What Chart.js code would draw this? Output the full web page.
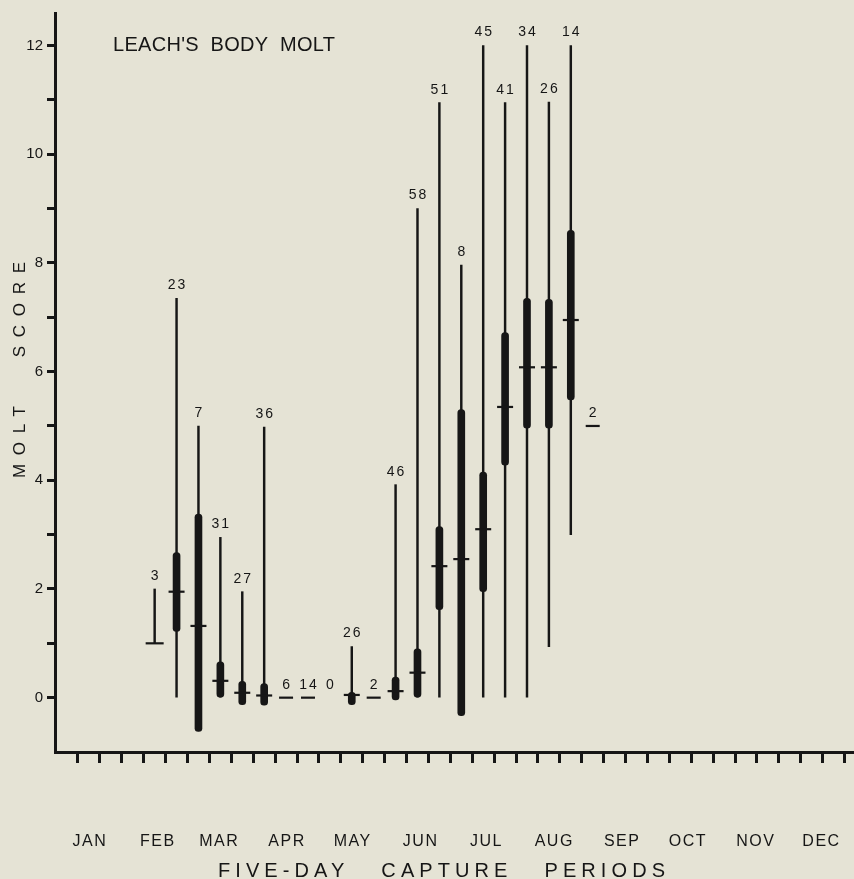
<!DOCTYPE html>
<html>
<head>
<meta charset="utf-8">
<script src="https://cdn.jsdelivr.net/npm/chart.js@4.4.1/dist/chart.umd.min.js"></script>
<style>
  html, body { margin: 0; padding: 0; background: #e5e3d5; }
  #wrap { width: 854px; height: 879px; position: relative; }
</style>
</head>
<body>
<div id="wrap"><canvas id="chart"></canvas></div>
<script>
// Month names shown under the axis
const months = ['JAN', 'FEB', 'MAR', 'APR', 'MAY', 'JUN', 'JUL', 'AUG', 'SEP', 'OCT', 'NOV', 'DEC'];
// Day of the year on which each month begins (one axis tick = ten days)
const monthStartDay = [0, 31, 59, 90, 120, 151, 181, 212, 243, 273, 304, 334];

// Capture period number (0 = first period of January)
const periodIndex = [3, 4, 5, 6, 7, 8, 9, 10, 11, 12, 13, 14, 15, 16, 17, 18, 19, 20, 21, 22, 23];
// Birds examined in each period
const sampleSize  = [3, 23, 7, 31, 27, 36, 6, 14, 0, 26, 2, 46, 58, 51, 8, 45, 41, 34, 26, 14, 2];
// Lowest and highest molt score
const rangeMin = [1, 0, 0, 0, 0, 0, null, null, null, 0, null, 0, 0, 0, 0, 0, 0, 0, 0.94, 3.0, null];
const rangeMax = [2, 7.35, 5.0, 2.95, 1.95, 4.98, null, null, null, 0.94, null, 3.92, 9.0, 10.95, 7.96, 12, 10.95, 12, 10.96, 12, null];
// Mean plus / minus one standard deviation
const sdLow  = [null, 1.22, -0.62, 0, -0.13, -0.14, null, null, null, -0.13, null, -0.04, 0, 1.62, -0.33, 1.95, 4.28, 4.96, 4.96, 5.48, null];
const sdHigh = [null, 2.67, 3.38, 0.66, 0.30, 0.26, null, null, null, 0.10, null, 0.38, 0.90, 3.15, 5.30, 4.15, 6.72, 7.35, 7.33, 8.60, null];
// Mean molt score
const meanScore = [1, 1.95, 1.32, 0.31, 0.09, 0.04, 0, 0, null, 0.05, 0, 0.12, 0.46, 2.42, 2.55, 3.10, 5.35, 6.08, 6.08, 6.95, 5.0];

// Y-axis tick values
const scoreTicks = [0, 1, 2, 3, 4, 5, 6, 7, 8, 9, 10, 11, 12];

const INK = '#161616';
const FONT = "'Liberation Sans', Arial, sans-serif";

const xOf = i => periodIndex[i] + 0.5;

const rangeData = [], sdData = [], meanData = [], meanRadius = [];
periodIndex.forEach((p, i) => {
  if (rangeMin[i] !== null) rangeData.push({ x: xOf(i), y: [rangeMin[i], rangeMax[i]] });
  if (sdLow[i] !== null) sdData.push({ x: xOf(i), y: [sdLow[i], sdHigh[i]] });
  if (meanScore[i] !== null) {
    meanData.push({ x: xOf(i), y: meanScore[i] });
    meanRadius.push(rangeMin[i] === null ? 7 : (sdLow[i] === null ? 9 : 8));
  }
});

// Draws a string stretched between two x positions by letter spacing
function spacedText(ctx, text, x0, x1, y) {
  ctx.letterSpacing = '0px';
  const w = ctx.measureText(text).width;
  const ls = (x1 - x0 - w) / (text.length - 1);
  ctx.letterSpacing = ls + 'px';
  ctx.textAlign = 'left';
  ctx.fillText(text, x0, y);
}

const textPlugin = {
  id: 'moltText',
  beforeDraw(chart) {
    const ctx = chart.ctx;
    ctx.save();
    ctx.fillStyle = '#e5e3d5';
    ctx.fillRect(0, 0, chart.width, chart.height);
    ctx.restore();
  },
  afterDatasetsDraw(chart) {
    const ctx = chart.ctx;
    const xs = chart.scales.x, ys = chart.scales.y;
    ctx.save();
    ctx.fillStyle = INK;

    // sample sizes above each period
    ctx.font = `14px ${FONT}`;
    ctx.letterSpacing = '2px';
    ctx.textAlign = 'center';
    ctx.textBaseline = 'middle';
    periodIndex.forEach((p, i) => {
      const vals = [rangeMax[i], sdHigh[i], meanScore[i]].filter(v => v !== null);
      const top = vals.length ? Math.max(...vals) : 0;
      ctx.fillText(String(sampleSize[i]), xs.getPixelForValue(xOf(i)) + 1, ys.getPixelForValue(top) - 13);
    });

    // month names
    ctx.textBaseline = 'alphabetic';
    ctx.font = `16px ${FONT}`;
    ctx.letterSpacing = '1.5px';
    months.forEach((m, k) => {
      ctx.fillText(m, xs.getPixelForValue(monthStartDay[k] / 10 + 0.5) + 1, 846);
    });

    // chart title
    ctx.font = `20px ${FONT}`;
    spacedText(ctx, "LEACH'S  BODY  MOLT", 113, 335, 51);

    // x-axis title
    ctx.font = `20px ${FONT}`;
    spacedText(ctx, 'FIVE-DAY   CAPTURE   PERIODS', 218, 665, 877);

    // y-axis title
    ctx.save();
    ctx.translate(25, 478);
    ctx.rotate(-Math.PI / 2);
    ctx.font = `17px ${FONT}`;
    spacedText(ctx, 'MOLT   SCORE', 0, 216, 0);
    ctx.restore();

    ctx.restore();
  }
};

new Chart(document.getElementById('chart'), {
  type: 'bar',
  data: {
    datasets: [
      {
        label: 'mean',
        type: 'scatter',
        data: meanData,
        pointStyle: 'line',
        pointRadius: meanRadius,
        borderColor: INK,
        backgroundColor: INK,
        borderWidth: 2.2,
        order: 1
      },
      {
        label: 'sd',
        data: sdData,
        backgroundColor: INK,
        barThickness: 7,
        borderRadius: 3.5,
        borderSkipped: false,
        grouped: false,
        order: 2
      },
      {
        label: 'range',
        data: rangeData,
        backgroundColor: INK,
        barThickness: 1.8,
        grouped: false,
        order: 3
      }
    ]
  },
  options: {
    responsive: true,
    maintainAspectRatio: false,
    animation: false,
    events: [],
    layout: { autoPadding: false, padding: { top: 13, left: 0, right: 0, bottom: 0 } },
    plugins: { legend: { display: false }, tooltip: { enabled: false }, title: { display: false } },
    scales: {
      x: {
        type: 'linear',
        min: -1.05,
        max: 35.43,
        offset: false,
        afterBuildTicks(scale) {
          const t = [];
          for (let v = 0; v <= 35; v++) t.push({ value: v });
          scale.ticks = t;
        },
        afterFit(scale) { scale.height = 127; },
        ticks: { display: false },
        grid: { offset: false, drawOnChartArea: false, drawTicks: true, tickLength: 11, tickWidth: 3, tickColor: INK },
        border: { display: true, width: 3, color: INK }
      },
      y: {
        type: 'linear',
        min: -1,
        max: 12.6,
        afterBuildTicks(scale) { scale.ticks = scoreTicks.map(v => ({ value: v })); },
        afterFit(scale) { scale.width = 55; },
        ticks: {
          color: INK,
          padding: 4,
          font: { family: FONT, size: 15 },
          callback: v => (v % 2 === 0 ? String(v) : '')
        },
        grid: { drawOnChartArea: false, drawTicks: true, tickLength: 8, tickWidth: 3, tickColor: INK },
        border: { display: true, width: 3, color: INK }
      }
    }
  },
  plugins: [textPlugin]
});
</script>
</body>
</html>
